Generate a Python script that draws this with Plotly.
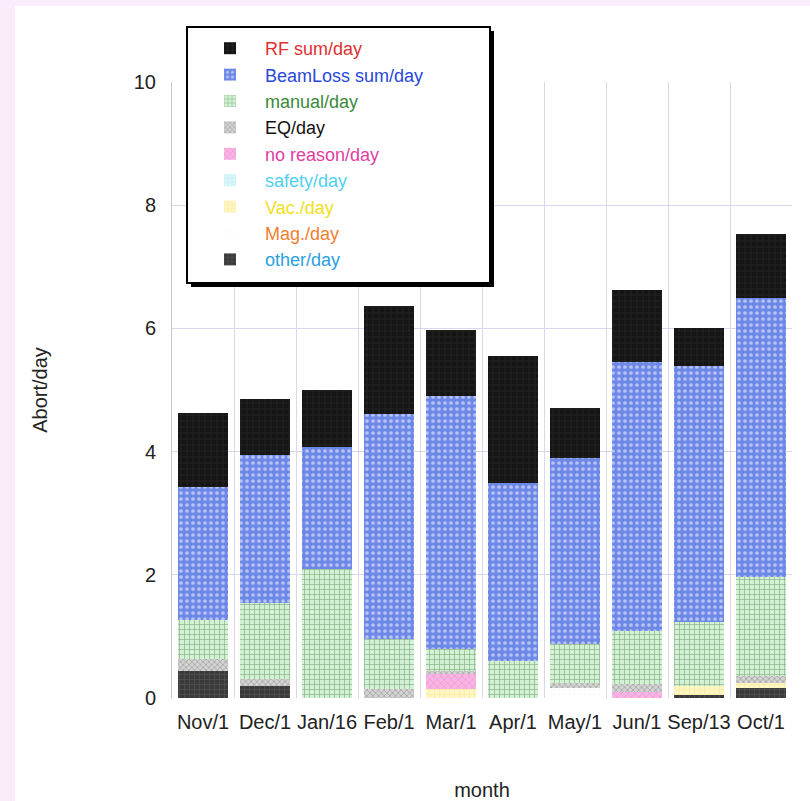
import plotly.graph_objects as go

months = ["Nov/1", "Dec/1", "Jan/16", "Feb/1", "Mar/1", "Apr/1", "May/1", "Jun/1", "Sep/13", "Oct/1"]

other_day     = [0.44, 0.20, 0.00, 0.00, 0.00, 0.00, 0.00, 0.00, 0.05, 0.16]
mag_day       = [0.00, 0.00, 0.00, 0.00, 0.00, 0.00, 0.16, 0.00, 0.00, 0.00]
vac_day       = [0.00, 0.00, 0.00, 0.00, 0.15, 0.00, 0.00, 0.00, 0.15, 0.08]
safety_day    = [0.00, 0.00, 0.00, 0.00, 0.00, 0.00, 0.00, 0.00, 0.00, 0.00]
noreason_day  = [0.00, 0.00, 0.00, 0.00, 0.24, 0.00, 0.00, 0.09, 0.00, 0.00]
eq_day        = [0.20, 0.11, 0.00, 0.15, 0.05, 0.00, 0.08, 0.14, 0.00, 0.11]
manual_day    = [0.63, 1.23, 2.09, 0.81, 0.36, 0.60, 0.64, 0.86, 1.03, 1.62]
beamloss_day  = [2.16, 2.40, 1.98, 3.65, 4.10, 2.89, 3.02, 4.36, 4.16, 4.52]
rf_day        = [1.19, 0.91, 0.93, 1.75, 1.07, 2.06, 0.81, 1.17, 0.61, 1.04]

series_names = ["other/day", "Mag./day", "Vac./day", "safety/day", "no reason/day",
                "EQ/day", "manual/day", "BeamLoss sum/day", "RF sum/day"]
series_values = [other_day, mag_day, vac_day, safety_day, noreason_day,
                 eq_day, manual_day, beamloss_day, rf_day]

# style per series: (bg color, pattern fg, shape, size, solidity, legend text color)
styles = {
    "other/day":        ("#3a3a3a", "#6e6e6e", "+", 5, 0.25, "#2aa0e0"),
    "Mag./day":         ("#ffffff", "#eeeeee", "+", 5, 0.15, "#f08030"),
    "Vac./day":         ("#fff6c0", "#e4d68a", "+", 5, 0.2, "#f0e020"),
    "safety/day":       ("#dcf8f8", "#86d6e6", "+", 5, 0.2, "#50d0f0"),
    "no reason/day":    ("#f8b4e2", "#e07cc4", "x", 5, 0.25, "#e040a0"),
    "EQ/day":           ("#d4d4d4", "#5a5a5a", "x", 4, 0.3, "#111111"),
    "manual/day":       ("#d3f2d3", "#3a6a3a", "+", 5, 0.25, "#3a8a3a"),
    "BeamLoss sum/day": ("#6d88e6", "#ffffff", ".", 6, 0.3, "#2848d8"),
    "RF sum/day":       ("#151515", "#3c3c3c", "+", 6, 0.2, "#e03030"),
}

fig = go.Figure()
for name, vals in zip(series_names, series_values):
    bg, fg, shp, sz, sol, tc = styles[name]
    fig.add_trace(go.Bar(
        x=months, y=vals,
        name=f"<span style='color:{tc}'>{name}</span>",
        marker=dict(color=bg, line=dict(width=0),
                    pattern=dict(shape=shp, fgcolor=fg, bgcolor=bg, size=sz,
                                 solidity=sol, fillmode="overlay")),
    ))

W, H = 810, 801
L, R, T, B = 172, 18, 82, 103
pw, ph = W - L - R, H - T - B

def px_x(x):
    return (x - L) / pw

def px_y(y):
    return (H - B - y) / ph

font_family = "Liberation Sans, Arial, Helvetica, sans-serif"

fig.update_layout(
    width=W, height=H,
    margin=dict(l=L, r=R, t=T, b=B, autoexpand=False),
    barmode="stack",
    bargap=0.19,
    paper_bgcolor="#fbecfb",
    plot_bgcolor="#ffffff",
    font=dict(family=font_family, size=20, color="#222222"),
    showlegend=True,
    legend=dict(
        x=px_x(195), y=px_y(30), xanchor="left", yanchor="top",
        bgcolor="rgba(0,0,0,0)", borderwidth=0,
        font=dict(family=font_family, size=18),
        traceorder="reversed", itemwidth=60, tracegroupgap=0,
    ),
    xaxis=dict(
        type="category", tickson="boundaries", showgrid=True,
        gridcolor="#d8d8ec", gridwidth=1, showline=False, zeroline=False,
        ticks="", tickangle=0, ticklabelstandoff=10,
        tickfont=dict(size=20, color="#222222"),
        title=dict(text="month", font=dict(size=20, color="#222222"), standoff=52),
    ),
    yaxis=dict(
        range=[0, 10], tickvals=[0, 2, 4, 6, 8, 10], showgrid=True,
        gridcolor="#d8d8ec", gridwidth=1, showline=True, linecolor="#c4c4e4",
        zeroline=False, ticks="", ticklabelstandoff=11,
        tickfont=dict(size=20, color="#222222"),
        title=dict(text="Abort/day", font=dict(size=20, color="#222222"), standoff=80),
    ),
    shapes=[
        # white inner panel
        dict(type="rect", xref="paper", yref="paper",
             x0=px_x(15), x1=px_x(812), y0=px_y(803), y1=px_y(6),
             fillcolor="#ffffff", line=dict(width=0), layer="below"),
        # legend drop shadow
        dict(type="rect", xref="paper", yref="paper",
             x0=px_x(191), x1=px_x(494), y0=px_y(287), y1=px_y(31),
             fillcolor="#000000", line=dict(width=0), layer="above"),
        # legend box
        dict(type="rect", xref="paper", yref="paper",
             x0=px_x(187), x1=px_x(490), y0=px_y(283), y1=px_y(27),
             fillcolor="#ffffff", line=dict(width=2, color="#000000"), layer="above"),
    ],
)

fig.write_html("out.html", config={"displayModeBar": False},
               post_script="document.body.style.margin='0';")
